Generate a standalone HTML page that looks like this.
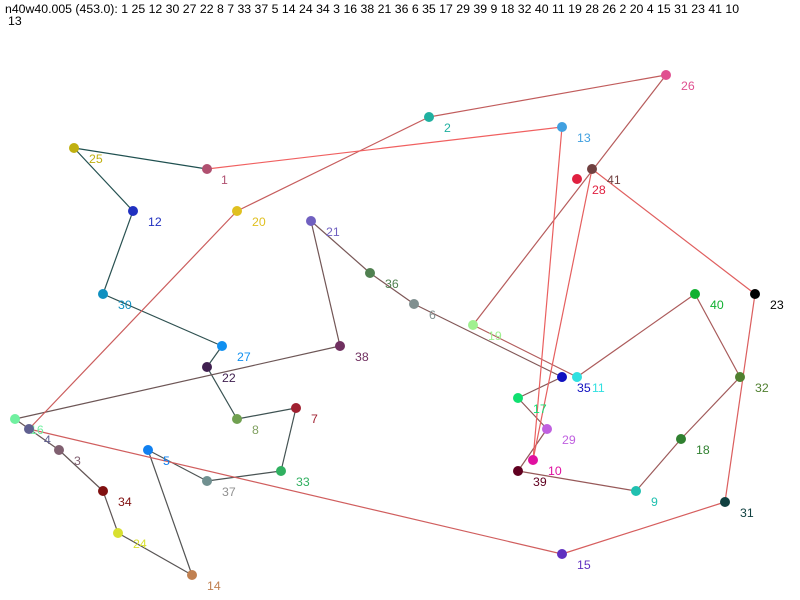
<!DOCTYPE html>
<html><head><meta charset="utf-8"><style>
html,body{margin:0;padding:0;background:#fff;}
svg{display:block;font-family:"Liberation Sans",Arial,sans-serif;}
</style></head><body>
<svg width="800" height="600" xmlns="http://www.w3.org/2000/svg">
<rect width="800" height="600" fill="#fff"/>
<text x="5" y="13" font-size="12.3" fill="#000">n40w40.005 (453.0): 1 25 12 30 27 22 8 7 33 37 5 14 24 34 3 16 38 21 36 6 35 17 29 39 9 18 32 40 11 19 28 26 2 20 4 15 31 23 41 10</text>
<text x="8" y="25" font-size="12.3" fill="#000">13</text>
<g stroke-width="1.2" fill="none">
<line x1="207" y1="169" x2="74" y2="148" stroke="#1f5050"/>
<line x1="74" y1="148" x2="133" y2="211" stroke="#245151"/>
<line x1="133" y1="211" x2="103" y2="294" stroke="#295151"/>
<line x1="103" y1="294" x2="222" y2="346" stroke="#2f5151"/>
<line x1="222" y1="346" x2="207" y2="367" stroke="#345252"/>
<line x1="207" y1="367" x2="237" y2="419" stroke="#395252"/>
<line x1="237" y1="419" x2="296" y2="408" stroke="#3e5252"/>
<line x1="296" y1="408" x2="281" y2="471" stroke="#445353"/>
<line x1="281" y1="471" x2="207" y2="481" stroke="#495353"/>
<line x1="207" y1="481" x2="148" y2="450" stroke="#4e5454"/>
<line x1="148" y1="450" x2="192" y2="575" stroke="#535454"/>
<line x1="192" y1="575" x2="118" y2="533" stroke="#585454"/>
<line x1="118" y1="533" x2="103" y2="491" stroke="#5e5555"/>
<line x1="103" y1="491" x2="59" y2="450" stroke="#635555"/>
<line x1="59" y1="450" x2="15" y2="419" stroke="#685656"/>
<line x1="15" y1="419" x2="340" y2="346" stroke="#6d5656"/>
<line x1="340" y1="346" x2="311" y2="221" stroke="#725656"/>
<line x1="311" y1="221" x2="370" y2="273" stroke="#785757"/>
<line x1="370" y1="273" x2="414" y2="304" stroke="#7d5757"/>
<line x1="414" y1="304" x2="562" y2="377" stroke="#825858"/>
<line x1="562" y1="377" x2="518" y2="398" stroke="#875858"/>
<line x1="518" y1="398" x2="547" y2="429" stroke="#8d5858"/>
<line x1="547" y1="429" x2="518" y2="471" stroke="#925959"/>
<line x1="518" y1="471" x2="636" y2="491" stroke="#975959"/>
<line x1="636" y1="491" x2="681" y2="439" stroke="#9c5a5a"/>
<line x1="681" y1="439" x2="740" y2="377" stroke="#a15a5a"/>
<line x1="740" y1="377" x2="695" y2="294" stroke="#a75a5a"/>
<line x1="695" y1="294" x2="577" y2="377" stroke="#ac5b5b"/>
<line x1="577" y1="377" x2="473" y2="325" stroke="#b15b5b"/>
<line x1="473" y1="325" x2="666" y2="75" stroke="#b65c5c"/>
<line x1="666" y1="75" x2="429" y2="117" stroke="#c15c5c"/>
<line x1="429" y1="117" x2="237" y2="211" stroke="#c65d5d"/>
<line x1="237" y1="211" x2="29" y2="429" stroke="#cb5d5d"/>
<line x1="29" y1="429" x2="562" y2="554" stroke="#d05e5e"/>
<line x1="562" y1="554" x2="725" y2="502" stroke="#d65e5e"/>
<line x1="725" y1="502" x2="755" y2="294" stroke="#db5e5e"/>
<line x1="755" y1="294" x2="592" y2="169" stroke="#e05f5f"/>
<line x1="592" y1="169" x2="533" y2="460" stroke="#e55f5f"/>
<line x1="533" y1="460" x2="562" y2="127" stroke="#ea6060"/>
<line x1="562" y1="127" x2="207" y2="169" stroke="#f06060"/>
</g>
<g font-size="12.3">
<circle cx="207" cy="169" r="5" fill="#b05070"/><text x="221" y="184" fill="#b05070">1</text>
<circle cx="74" cy="148" r="5" fill="#c0b010"/><text x="89" y="163" fill="#c0b010">25</text>
<circle cx="133" cy="211" r="5" fill="#2030c0"/><text x="148" y="226" fill="#2030c0">12</text>
<circle cx="103" cy="294" r="5" fill="#1090c0"/><text x="118" y="309" fill="#1090c0">30</text>
<circle cx="222" cy="346" r="5" fill="#1090f0"/><text x="237" y="361" fill="#1090f0">27</text>
<circle cx="207" cy="367" r="5" fill="#402050"/><text x="222" y="382" fill="#402050">22</text>
<circle cx="237" cy="419" r="5" fill="#70a050"/><text x="252" y="434" fill="#80a060">8</text>
<circle cx="296" cy="408" r="5" fill="#a02030"/><text x="311" y="423" fill="#a02030">7</text>
<circle cx="281" cy="471" r="5" fill="#30b060"/><text x="296" y="486" fill="#30b060">33</text>
<circle cx="207" cy="481" r="5" fill="#709090"/><text x="222" y="496" fill="#909090">37</text>
<circle cx="148" cy="450" r="5" fill="#1080f0"/><text x="163" y="465" fill="#1080f0">5</text>
<circle cx="192" cy="575" r="5" fill="#c08050"/><text x="207" y="590" fill="#c08050">14</text>
<circle cx="118" cy="533" r="5" fill="#d8e030"/><text x="133" y="548" fill="#d8e030">24</text>
<circle cx="103" cy="491" r="5" fill="#801010"/><text x="118" y="506" fill="#801010">34</text>
<circle cx="59" cy="450" r="5" fill="#806070"/><text x="74" y="465" fill="#806070">3</text>
<circle cx="15" cy="419" r="5" fill="#70f0a0"/><text x="30" y="434" fill="#70f0a0">16</text>
<circle cx="29" cy="429" r="5" fill="#606090"/><text x="44" y="444" fill="#606090">4</text>
<circle cx="340" cy="346" r="5" fill="#703060"/><text x="355" y="361" fill="#703060">38</text>
<circle cx="311" cy="221" r="5" fill="#7060c0"/><text x="326" y="236" fill="#7060c0">21</text>
<circle cx="370" cy="273" r="5" fill="#508050"/><text x="385" y="288" fill="#508050">36</text>
<circle cx="414" cy="304" r="5" fill="#809090"/><text x="429" y="319" fill="#809090">6</text>
<circle cx="562" cy="377" r="5" fill="#1010c0"/><text x="577" y="392" fill="#1010c0">35</text>
<circle cx="577" cy="377" r="5" fill="#30e0e0"/><text x="592" y="392" fill="#30e0e0">11</text>
<circle cx="518" cy="398" r="5" fill="#10e070"/><text x="533" y="413" fill="#10e070">17</text>
<circle cx="547" cy="429" r="5" fill="#c060e0"/><text x="562" y="444" fill="#c060e0">29</text>
<circle cx="518" cy="471" r="5" fill="#600020"/><text x="533" y="486" fill="#600020">39</text>
<circle cx="533" cy="460" r="5" fill="#e010a0"/><text x="548" y="475" fill="#e010a0">10</text>
<circle cx="636" cy="491" r="5" fill="#20c0b0"/><text x="651" y="506" fill="#20c0b0">9</text>
<circle cx="681" cy="439" r="5" fill="#308030"/><text x="696" y="454" fill="#308030">18</text>
<circle cx="740" cy="377" r="5" fill="#508030"/><text x="755" y="392" fill="#508030">32</text>
<circle cx="695" cy="294" r="5" fill="#10b030"/><text x="710" y="309" fill="#10b030">40</text>
<circle cx="473" cy="325" r="5" fill="#a0f090"/><text x="488" y="340" fill="#a0f090">19</text>
<circle cx="577" cy="179" r="5" fill="#e02040"/><text x="592" y="194" fill="#e02040">28</text>
<circle cx="592" cy="169" r="5" fill="#704040"/><text x="607" y="184" fill="#704040">41</text>
<circle cx="666" cy="75" r="5" fill="#e05090"/><text x="681" y="90" fill="#e05090">26</text>
<circle cx="429" cy="117" r="5" fill="#20b0a0"/><text x="444" y="132" fill="#20b0a0">2</text>
<circle cx="237" cy="211" r="5" fill="#e0c020"/><text x="252" y="226" fill="#e0c020">20</text>
<circle cx="562" cy="554" r="5" fill="#6030c0"/><text x="577" y="569" fill="#6030c0">15</text>
<circle cx="725" cy="502" r="5" fill="#104040"/><text x="740" y="517" fill="#104040">31</text>
<circle cx="755" cy="294" r="5" fill="#000"/><text x="770" y="309" fill="#000">23</text>
<circle cx="562" cy="127" r="5" fill="#40a0e0"/><text x="577" y="142" fill="#40a0e0">13</text>
</g>
</svg>
</body></html>
